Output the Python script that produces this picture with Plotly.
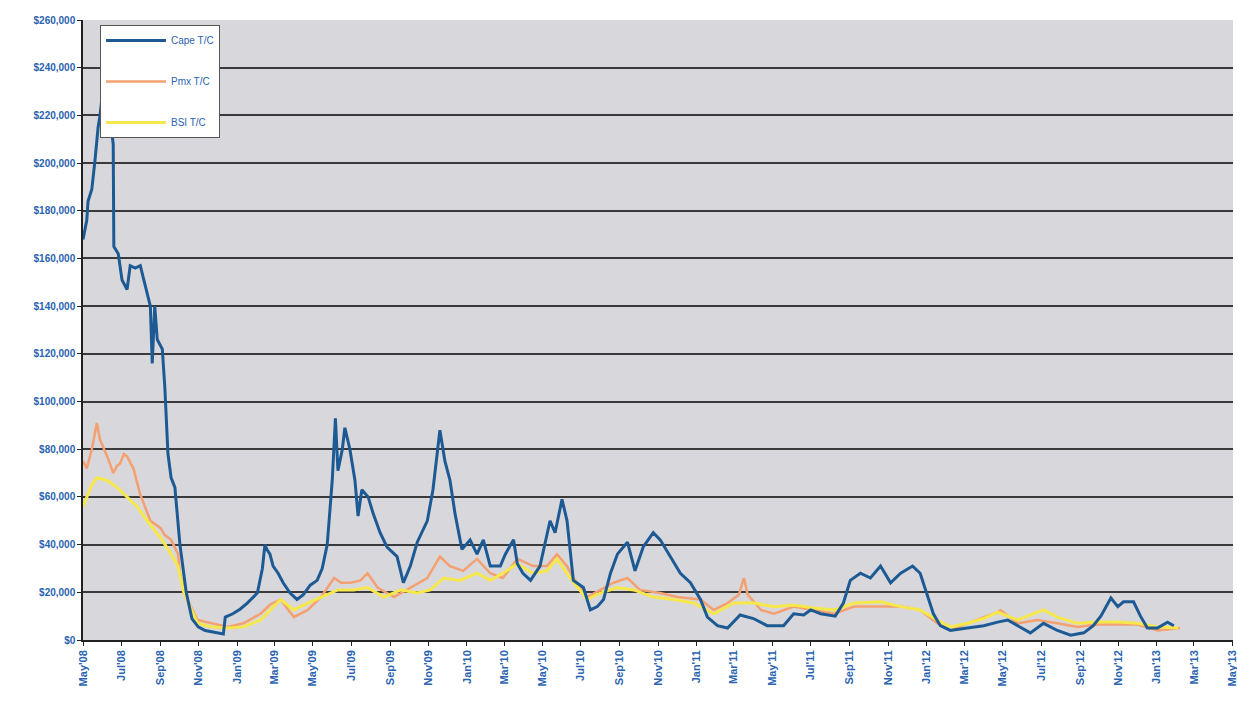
import plotly.graph_objects as go

# ---------------- data ----------------
cape_dates = ["2008-05-01","2008-05-07","2008-05-09","2008-05-15","2008-05-20","2008-05-25","2008-05-28",
    "2008-06-03","2008-06-10","2008-06-15","2008-06-18","2008-06-19","2008-06-26","2008-07-02","2008-07-10",
    "2008-07-15","2008-07-23","2008-07-31","2008-08-11","2008-08-16","2008-08-19","2008-08-23","2008-08-27",
    "2008-09-04","2008-09-08","2008-09-13","2008-09-18","2008-09-24","2008-10-02","2008-10-12","2008-10-21",
    "2008-10-31","2008-11-11","2008-11-27","2008-12-10","2008-12-13","2008-12-25","2009-01-06","2009-01-17",
    "2009-02-02","2009-02-10","2009-02-14","2009-02-17","2009-02-22","2009-02-27","2009-03-07","2009-03-15",
    "2009-03-26","2009-04-06","2009-04-16","2009-04-27","2009-05-08","2009-05-16","2009-05-24","2009-06-01",
    "2009-06-06","2009-06-10","2009-06-17","2009-06-21","2009-06-29","2009-07-07","2009-07-12","2009-07-18",
    "2009-07-28","2009-08-05","2009-08-16","2009-08-27","2009-09-12","2009-09-22","2009-10-03","2009-10-14",
    "2009-10-30","2009-11-08","2009-11-19","2009-11-27","2009-12-05","2009-12-13","2009-12-24","2010-01-06",
    "2010-01-17","2010-01-27","2010-02-07","2010-02-23","2010-03-03","2010-03-16","2010-03-22","2010-03-31",
    "2010-04-12","2010-04-27","2010-05-13","2010-05-21","2010-06-01","2010-06-09","2010-06-19","2010-07-05",
    "2010-07-16","2010-07-27","2010-08-06","2010-08-17","2010-08-28","2010-09-13","2010-09-25","2010-10-08",
    "2010-10-24","2010-11-04","2010-11-20","2010-12-06","2010-12-22","2011-01-07","2011-01-18","2011-02-03",
    "2011-02-19","2011-03-11","2011-04-01","2011-04-23","2011-05-19","2011-06-04","2011-06-20","2011-07-01",
    "2011-07-17","2011-08-09","2011-08-22","2011-09-02","2011-09-18","2011-10-04","2011-10-20","2011-11-05",
    "2011-11-21","2011-12-10","2011-12-22","2012-01-04","2012-01-12","2012-01-23","2012-02-08","2012-03-06",
    "2012-04-01","2012-04-23","2012-05-09","2012-05-25","2012-06-14","2012-07-05","2012-07-27","2012-08-17",
    "2012-09-07","2012-09-22","2012-10-04","2012-10-20","2012-10-31","2012-11-09","2012-11-25","2012-12-06",
    "2012-12-17","2013-01-02","2013-01-18","2013-01-28"]
cape_values = [168000,176000,184000,189000,201000,215000,220000,
    234000,225000,215000,208000,165000,162000,151000,147000,
    157000,156000,157000,145000,140000,116000,140000,126000,
    122000,106000,78000,68000,64000,40000,20000,9000,
    5500,4000,3000,2500,9600,11000,13000,15500,
    19700,30000,40000,38000,36000,31000,28000,24000,
    19700,17000,19000,23000,25000,30000,40000,67000,
    93000,71000,80000,89000,80000,67000,52000,63000,
    60000,53000,45000,39000,35000,24000,31000,41000,
    50000,63000,88000,75000,67000,53000,38000,42000,
    36000,42000,31000,31000,36000,42000,32000,28000,
    25000,31000,50000,45000,59000,50000,25000,22000,
    12600,14000,17000,28000,36000,41000,29000,39000,
    45000,42000,35000,28000,24000,17000,9600,6000,
    5000,10500,9000,6000,6000,11000,10500,12600,
    11000,10000,15500,25000,28000,26000,31000,24000,
    28000,31000,28000,18000,11000,6000,4000,5000,
    6000,7500,8400,6000,3000,7000,4000,2000,
    3000,6000,10000,17600,14000,16000,16000,10000,
    5000,5000,7500,6000]

pmx_dates = ["2008-05-01","2008-05-07","2008-05-15","2008-05-23","2008-05-28","2008-06-02","2008-06-10",
    "2008-06-18","2008-06-24","2008-06-29","2008-07-05","2008-07-10","2008-07-20","2008-07-31","2008-08-16",
    "2008-09-01","2008-09-08","2008-09-18","2008-09-29","2008-10-02","2008-10-14","2008-10-30","2008-11-20",
    "2008-12-17","2009-01-11","2009-02-07","2009-02-23","2009-03-11","2009-03-22","2009-04-01","2009-04-23",
    "2009-05-14","2009-06-04","2009-06-15","2009-06-30","2009-07-16","2009-07-27","2009-08-12","2009-09-07",
    "2009-10-03","2009-10-30","2009-11-08","2009-11-19","2009-12-05","2009-12-26","2010-01-17","2010-02-07",
    "2010-02-27","2010-03-22","2010-04-16","2010-05-08","2010-05-24","2010-06-09","2010-06-19","2010-07-11",
    "2010-08-01","2010-08-22","2010-09-13","2010-10-03","2010-11-04","2010-12-01","2011-01-07","2011-01-28",
    "2011-02-19","2011-03-09","2011-03-17","2011-03-23","2011-04-13","2011-05-04","2011-06-04","2011-07-06",
    "2011-08-08","2011-09-08","2011-10-20","2011-11-21","2011-12-22","2012-01-18","2012-02-08","2012-03-06",
    "2012-04-23","2012-04-28","2012-05-25","2012-06-25","2012-07-27","2012-08-28","2012-09-28","2012-10-31",
    "2012-12-01","2013-01-02","2013-02-07"]
pmx_values = [75000,72000,80000,91000,84000,81000,76000,
    70000,73000,74000,78000,77000,72000,61000,50000,
    47000,44000,42000,36000,28000,17000,8400,7000,
    5500,7000,11000,15000,17000,13000,9600,12600,
    18000,26000,24000,24000,25000,28000,22000,18000,
    22000,26000,30000,35000,31000,29000,34000,28000,
    26000,34000,31000,31000,36000,31000,26000,18000,
    21000,24000,26000,21000,19700,18000,17000,12600,
    15500,19000,26000,19000,12600,11000,14000,12600,
    11000,14000,14000,14000,12600,7000,4000,7000,
    11700,12500,7000,8400,7000,5500,6500,6500,
    6500,4000,5000]

bsi_dates = ["2008-05-01","2008-05-07","2008-05-15","2008-05-23","2008-06-08","2008-06-24","2008-07-10",
    "2008-07-26","2008-08-11","2008-09-01","2008-09-18","2008-09-29","2008-10-08","2008-10-20","2008-10-30",
    "2008-11-20","2008-12-17","2009-01-11","2009-02-07","2009-03-11","2009-04-01","2009-04-23","2009-05-14",
    "2009-06-10","2009-07-05","2009-07-27","2009-08-22","2009-09-18","2009-10-14","2009-11-04","2009-11-25",
    "2009-12-21","2010-01-17","2010-02-07","2010-02-27","2010-03-22","2010-04-16","2010-05-08","2010-05-24",
    "2010-06-14","2010-07-11","2010-08-01","2010-08-28","2010-09-23","2010-10-24","2010-11-25","2010-12-27",
    "2011-01-28","2011-03-01","2011-04-01","2011-05-04","2011-06-04","2011-07-06","2011-08-08","2011-09-08",
    "2011-10-20","2011-11-21","2011-12-22","2012-01-18","2012-02-08","2012-03-06","2012-04-01","2012-04-23",
    "2012-05-25","2012-07-05","2012-07-27","2012-08-28","2012-09-28","2012-10-31","2012-12-01","2013-01-02",
    "2013-02-04"]
bsi_values = [56000,60000,65000,68000,67000,64000,60000,
    56000,50000,43000,36000,31000,20000,12600,7000,
    5500,5000,5500,8400,17000,12600,15500,18000,
    21000,21000,22000,18000,21000,19700,21000,26000,
    25000,28000,25000,28000,32000,28000,29000,34000,
    26000,17000,19700,22000,21000,18000,17000,15500,
    11000,15500,15500,14000,14700,13400,12600,15500,
    16000,14000,12600,8400,5500,7000,9000,11700,
    8400,12600,9600,7000,7500,7500,7000,5500,
    5000]

tick_dates = ["2008-05-01","2008-07-01","2008-09-01","2008-11-01","2009-01-01","2009-03-01","2009-05-01",
    "2009-07-01","2009-09-01","2009-11-01","2010-01-01","2010-03-01","2010-05-01","2010-07-01","2010-09-01",
    "2010-11-01","2011-01-01","2011-03-01","2011-05-01","2011-07-01","2011-09-01","2011-11-01","2012-01-01",
    "2012-03-01","2012-05-01","2012-07-01","2012-09-01","2012-11-01","2013-01-01","2013-03-01","2013-05-01"]
tick_labels = ["May'08","Jul'08","Sep'08","Nov'08","Jan'09","Mar'09","May'09","Jul'09","Sep'09","Nov'09",
    "Jan'10","Mar'10","May'10","Jul'10","Sep'10","Nov'10","Jan'11","Mar'11","May'11","Jul'11","Sep'11",
    "Nov'11","Jan'12","Mar'12","May'12","Jul'12","Sep'12","Nov'12","Jan'13","Mar'13","May'13"]

series_names = ["Cape T/C", "Pmx T/C", "BSI T/C"]

# ---------------- figure ----------------
BLUE = "#1d5a94"
ORANGE = "#f4a070"
YELLOW = "#f6e84a"
LABEL = "#2a63b0"
FONT = "Liberation Sans Narrow, Arial Narrow, Liberation Sans, Arial"

fig = go.Figure()
fig.add_trace(go.Scatter(x=pmx_dates, y=pmx_values, name=series_names[1], mode="lines",
                         line=dict(color=ORANGE, width=2.5), legendrank=2, legendgroup="b"))
fig.add_trace(go.Scatter(x=bsi_dates, y=bsi_values, name=series_names[2], mode="lines",
                         line=dict(color=YELLOW, width=3), legendrank=3, legendgroup="c"))
fig.add_trace(go.Scatter(x=cape_dates, y=cape_values, name=series_names[0], mode="lines",
                         line=dict(color=BLUE, width=3), legendrank=1, legendgroup="a"))

fig.update_layout(
    width=1237, height=702,
    margin=dict(l=83, r=4, t=20, b=62, autoexpand=False),
    paper_bgcolor="white",
    plot_bgcolor="#d8d8dc",
    font=dict(family=FONT, color=LABEL, size=10),
    showlegend=True,
    legend=dict(x=0.0148, y=0.992, xanchor="left", yanchor="top",
                bgcolor="white", bordercolor="#555555", borderwidth=1,
                font=dict(family=FONT, size=10, color=LABEL),
                tracegroupgap=22, itemwidth=60,
                traceorder="grouped"),
)
fig.update_xaxes(
    type="date", range=["2008-05-01", "2013-05-02"],
    tickmode="array", tickvals=tick_dates, ticktext=tick_labels, tickangle=-90,
    tickfont=dict(family=FONT, size=11, color=LABEL, weight="bold"),
    ticklabeloverflow="allow",
    showgrid=False, showline=True, linecolor="#222222", linewidth=1.5,
    ticks="outside", ticklen=4, tickcolor="#222222",
    zeroline=False, automargin=False,
)
fig.update_yaxes(
    range=[0, 260000], dtick=20000, tick0=0,
    tickprefix="$", tickformat=",d",
    tickfont=dict(family=FONT, size=10, color=LABEL, weight="bold"),
    showgrid=True, gridcolor="#3a3a3a", gridwidth=1.5,
    showline=True, linecolor="#222222", linewidth=1.5,
    ticks="outside", ticklen=4, tickcolor="#222222",
    zeroline=False, automargin=False,
)

fig.write_html("out.html", config={"displayModeBar": False},
               post_script="document.body.style.margin='0';")
